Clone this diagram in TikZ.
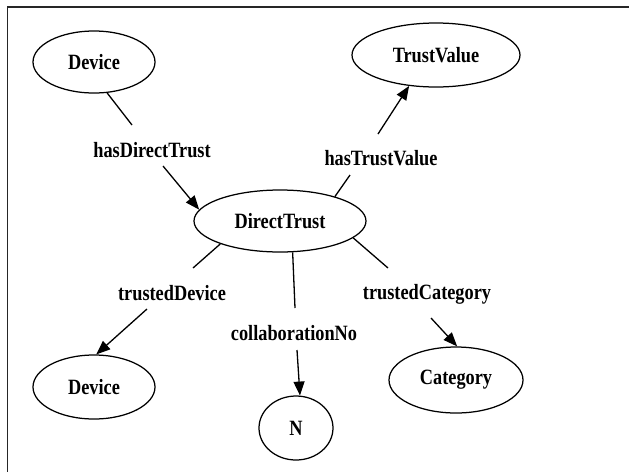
\documentclass[tikz,border=0pt]{standalone}
\usepackage{fontspec}
\setmainfont[FakeStretch=0.84]{Liberation Serif}
\usetikzlibrary{arrows.meta,shapes.geometric}
\begin{document}
\begin{tikzpicture}[x=1pt,y=-1pt,
  every node/.style={font=\fontsize{21.8}{26}\selectfont\bfseries},
  cls/.style={ellipse,draw,line width=1.25pt,inner sep=0pt},
  lbl/.style={inner sep=0pt},
  edge/.style={line width=1.3pt},
  arr/.style={line width=1.3pt,-{Triangle[length=14pt,width=11pt]}}]
\useasboundingbox (0,0) rectangle (629,472);
\draw[line width=1.2pt,black!85] (629,7) -- (7.5,7) -- (7.5,472);
% classes
\node[cls,minimum width=122pt,minimum height=62pt] (d1) at (94,62) {Device};
\node[cls,minimum width=168pt,minimum height=64pt] (tv) at (436,55) {TrustValue};
\node[cls,minimum width=172pt,minimum height=62pt] (dt) at (280,221) {DirectTrust};
\node[cls,minimum width=122pt,minimum height=64pt] (d2) at (94,387) {Device};
\node[cls,minimum width=74pt,minimum height=64pt] (n) at (296,428) {N};
\node[cls,minimum width=134pt,minimum height=66pt] (cat) at (456,380) {Category};
% labels
\node[lbl] (l1) at (152,150) {hasDirectTrust};
\node[lbl] (l2) at (381,158) {hasTrustValue};
\node[lbl] (l3) at (172,293) {trustedDevice};
\node[lbl] (l4) at (294,333) {collaborationNo};
\node[lbl] (l5) at (427,294) {trustedCategory};
% edge break points
\coordinate (e1a) at (132,125); \coordinate (e1b) at (163,166);
\coordinate (e2a) at (350,175); \coordinate (e2b) at (378,134);
\coordinate (e3a) at (193,268); \coordinate (e3b) at (147,309);
\coordinate (e4a) at (295,308); \coordinate (e4b) at (297,350);
\coordinate (e5a) at (388,268); \coordinate (e5b) at (431,318);
% edges
\draw[edge] (d1.-67) -- (e1a);
\draw[arr] (e1b) -- (dt.172);
\draw[edge] (dt.24) -- (e2a);
\draw[arr] (e2b) -- (tv.229);
\draw[edge] (dt.201) -- (e3a);
\draw[arr] (e3b) -- (d2.86);
\draw[edge] (dt.-68) -- (e4a);
\draw[arr] (e4b) -- (n.83);
\draw[edge] (dt.-13) -- (e5a);
\draw[arr] (e5b) -- (cat.88);
\end{tikzpicture}
\end{document}
